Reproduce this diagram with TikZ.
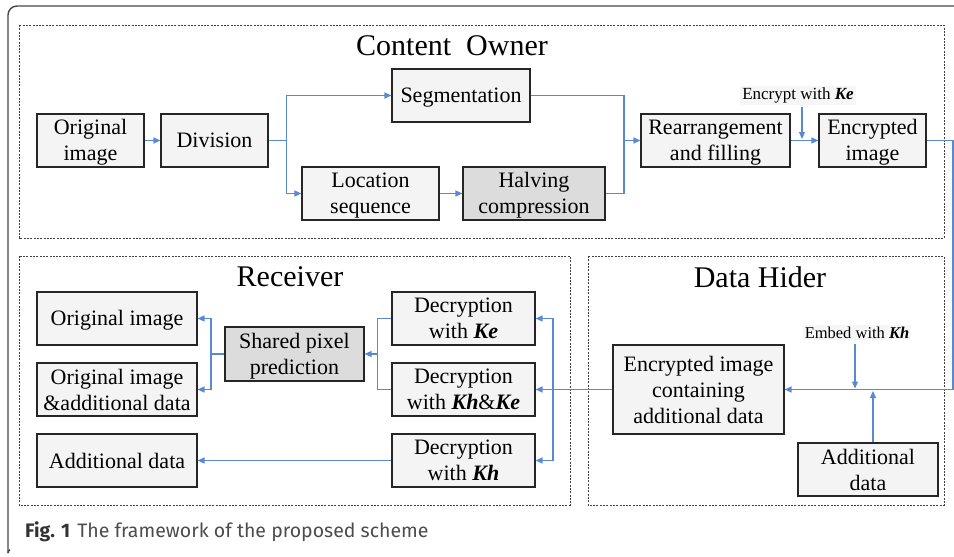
\documentclass[tikz,border=0pt]{standalone}
\usepackage{fontspec}
\setmainfont{Liberation Serif}
\newfontfamily\capfont{Fira Sans}
\usetikzlibrary{arrows.meta}
\definecolor{flowblue}{RGB}{88,138,210}
\definecolor{boxfill}{RGB}{244,244,244}
\definecolor{shadefill}{RGB}{220,220,220}
\definecolor{framegray}{RGB}{70,70,70}
\definecolor{labelbg}{RGB}{246,246,246}
\tikzset{
  box/.style={draw=black!85, line width=1.1pt, fill=boxfill, inner sep=0pt,
    align=center, font=\fontsize{22}{26}\selectfont},
  shadebox/.style={box, fill=shadefill},
  arr/.style={draw=flowblue, line width=1.2pt, -{Triangle[length=7pt,width=6pt]}},
  flow/.style={draw=flowblue, line width=1.2pt},
  region/.style={draw=black!75, line width=0.9pt, dash pattern=on 2pt off 1.3pt},
  regiontitle/.style={font=\fontsize{30}{32}\selectfont},
  keylabel/.style={fill=labelbg, inner sep=2pt, font=\fontsize{17}{19}\selectfont}
}
\newcommand{\bik}[1]{\textbf{\textit{#1}}}
% taller first line for texts that end on a descender, so the capitals sit centred
\newcommand{\lift}{\rule{0pt}{19.5pt}}
\begin{document}
\begin{tikzpicture}[x=1pt,y=-1pt]
\useasboundingbox (0,0) rectangle (954,557);

% outer figure frame
\draw[framegray, line width=1.4pt, rounded corners=9pt] (954,6) -- (8,6) -- (8,553);
\draw[framegray, line width=1.4pt] (8,553) arc[start angle=180, end angle=240, radius=4];

% regions
\draw[region] (19,25) rectangle (944,238);
\draw[region] (19,256) rectangle (570,505);
\draw[region] (588,256) rectangle (944,505);
\node[regiontitle] (tco) at (452,46) {Content\ \ Owner};
\node[regiontitle] (trc) at (290,277) {Receiver};
\node[regiontitle] (tdh) at (760,277) {Data Hider};

% content owner
\node[box, minimum width=107pt, minimum height=53pt] (orig) at (90.5,140.5) {\lift Original\\image};
\node[box, minimum width=107pt, minimum height=53pt] (div) at (214.5,140.5) {Division};
\node[box, minimum width=138pt, minimum height=53pt] (seg) at (461,95.5) {\lift Segmentation};
\node[box, minimum width=137pt, minimum height=53pt] (loc) at (370.5,193.5) {\lift Location\\sequence};
\node[shadebox, minimum width=142pt, minimum height=53pt] (halv) at (534,193.5) {\lift Halving\\compression};
\node[box, minimum width=149pt, minimum height=53pt] (rearr) at (715.5,140.5) {\lift Rearrangement\\and filling};
\node[box, minimum width=107pt, minimum height=53pt] (enc) at (872.5,140.5) {\lift Encrypted\\image};
\node[keylabel] (kelab) at (798,95.5) {Encrypt with \bik{Ke}};

\draw[arr] (orig.east) -- (div.west);
\draw[arr] (div.east) -- ++(18,0) |- (seg.west);
\draw[arr] (div.east) -- ++(18,0) |- (loc.west);
\draw[arr] (loc.east) -- (halv.west);
\coordinate (merge) at (624,140.5);
\draw[flow] (seg.east) -| (merge);
\draw[flow] (halv.east) -| (merge);
\draw[arr] (merge) -- (rearr.west);
\draw[arr] (rearr.east) -- (enc.west);
\coordinate (kein) at (802,107);
\coordinate (keout) at (802,139);
\draw[arr] (kein) -- (keout);

% data hider
\node[box, minimum width=171pt, minimum height=89pt] (ehid) at (698.5,389.5) {Encrypted image\\containing\\additional data};
\node[box, minimum width=140pt, minimum height=53pt] (adat) at (868,469.5) {Additional\\data};
\node[keylabel, font=\fontsize{16.5}{18}\selectfont] (khlab) at (857,332.5) {Embed with \bik{Kh}};
\coordinate (rturn) at (953,140.5);
\draw[arr] (enc.east) -- (rturn) |- (ehid.east);
\coordinate (khin) at (855,344);
\coordinate (khout) at (855,388.5);
\draw[arr] (khin) -- (khout);
\coordinate (adin) at (873,442);
\coordinate (adout) at (873,391);
\draw[arr] (adin) -- (adout);

% receiver
\node[box, minimum width=143pt, minimum height=53pt] (dke) at (463.5,318.5) {Decryption\\with \bik{Ke}};
\node[box, minimum width=143pt, minimum height=53pt] (dkhke) at (463.5,389.5) {Decryption\\with \bik{Kh}\&\bik{Ke}};
\node[box, minimum width=143pt, minimum height=53pt] (dkh) at (463.5,460.5) {Decryption\\with \bik{Kh}};
\node[shadebox, minimum width=139pt, minimum height=54pt] (spp) at (294.5,354) {\lift Shared pixel\\prediction};
\node[box, minimum width=160pt, minimum height=53pt] (rorig) at (117,318.5) {\lift Original image};
\node[box, minimum width=160pt, minimum height=53pt] (rorigadd) at (117,389.5) {Original image\\\&additional data};
\node[box, minimum width=160pt, minimum height=53pt] (radd) at (117,460.5) {Additional data};

\draw[arr] (ehid.west) -- (dkhke.east);
\coordinate (bus) at (553,389.5);
\draw[arr] (bus) |- (dke.east);
\draw[arr] (bus) |- (dkh.east);
\draw[flow] (dke.west) -- ++(-14,0) |- (dkhke.west);
\coordinate (join) at (378,354);
\draw[arr] (join) -- (spp.east);
\coordinate (split) at (211,354);
\draw[flow] (spp.west) -- (split);
\draw[arr] (split) |- (rorig.east);
\draw[arr] (split) |- (rorigadd.east);
\draw[arr] (dkh.west) -- (radd.east);

% caption
\node[anchor=base west, inner sep=0pt, font=\capfont\fontsize{19.5}{22}\selectfont, text=black!80] (cap) at (25,537)
  {\textbf{Fig. 1}\hspace{7pt}{\color{black!70}The framework of the proposed scheme}};
\end{tikzpicture}
\end{document}
